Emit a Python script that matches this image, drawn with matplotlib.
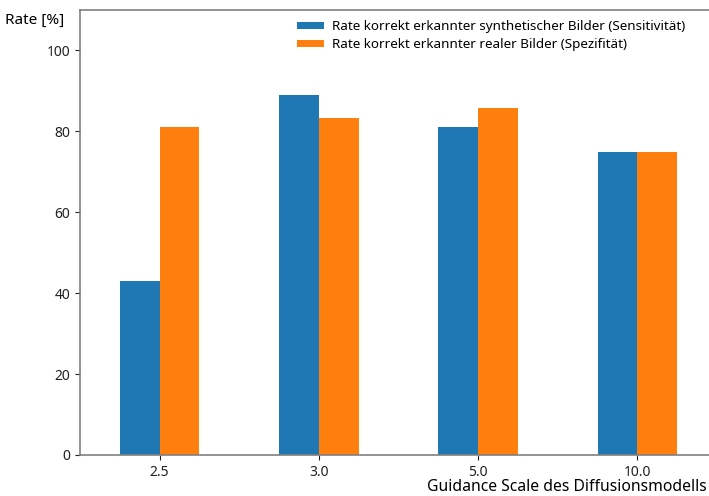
import numpy as np
import matplotlib
matplotlib.use("Agg")
import matplotlib.pyplot as plt

plt.rcParams['font.family'] = ['Noto Sans', 'DejaVu Sans']

# guidance scales and detection rates in percent
scales = ["2.5", "3.0", "5.0", "10.0"]
sensitivity = [43.0, 89.0, 81.0, 75.0]
specificity = [81.0, 83.3, 85.7, 75.0]
labels = ["Rate korrekt erkannter synthetischer Bilder (Sensitivität)",
          "Rate korrekt erkannter realer Bilder (Spezifität)"]

W, H = 709, 496
fig = plt.figure(figsize=(W / 100, H / 100), dpi=100)
ax = fig.add_axes([80 / W, (H - 455) / H, (717 - 80) / W, (455 - 10) / H])

x = np.arange(len(scales))
w = 0.25
ax.bar(x - w / 2, sensitivity, w, color="#1f77b4", label=labels[0])
ax.bar(x + w / 2, specificity, w, color="#ff7f0e", label=labels[1])

ax.set_xlim(-0.5, len(scales) - 0.5)
ax.set_ylim(0, 110)
ax.set_yticks([0, 20, 40, 60, 80, 100])
ax.set_xticks(x)
ax.set_xticklabels(scales)
ax.tick_params(labelsize=10, colors="#222222", length=3.5)
for s in ax.spines.values():
    s.set_color("#808080")
    s.set_linewidth(1.2)
# right side of the original is cropped away
ax.spines['right'].set_visible(False)

fig.text(5 / W, 1 - 20 / H, "Rate [%]", fontsize=11, va="center", ha="left")
fig.text(707 / W, 1 - 487 / H, "Guidance Scale des Diffusionsmodells",
         fontsize=11.3, va="center", ha="right")

ax.legend(loc="upper left", bbox_to_anchor=(297 / W, 1 - 20 / H),
          bbox_transform=fig.transFigure, frameon=False, fontsize=9.7,
          borderpad=0, borderaxespad=0, handlelength=2.0, handleheight=0.45,
          labelspacing=0.4, handletextpad=0.6)

fig.savefig("out.png", dpi=100)
